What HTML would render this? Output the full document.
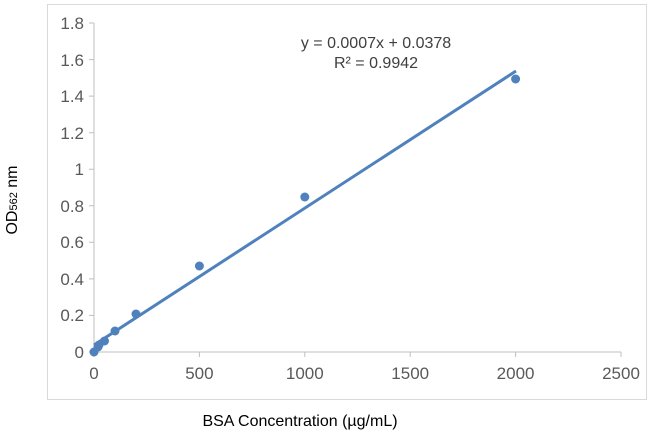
<!DOCTYPE html><html><head><style>body{margin:0;background:#fff}</style></head><body>
<svg width="653" height="435" xmlns="http://www.w3.org/2000/svg" font-family="Liberation Sans, sans-serif">
<rect x="47.5" y="4.5" width="599" height="395" fill="#fff" stroke="#d9d9d9"/>
<g stroke="#bfbfbf" fill="none">
<line x1="94" y1="23" x2="94" y2="352"/>
<line x1="94" y1="352" x2="621" y2="352"/>
<path d="M89 23h5M89 59.6h5M89 96.1h5M89 132.7h5M89 169.2h5M89 205.8h5M89 242.3h5M89 278.9h5M89 315.4h5M89 352h5"/>
<path d="M94 352v5M199.4 352v5M304.8 352v5M410.2 352v5M515.6 352v5M621 352v5"/>
</g>
<g fill="#595959" font-size="17" text-anchor="end">
<text x="84" y="29">1.8</text><text x="84" y="66">1.6</text><text x="84" y="102">1.4</text><text x="84" y="139">1.2</text><text x="84" y="175">1</text><text x="84" y="212">0.8</text><text x="84" y="248">0.6</text><text x="84" y="285">0.4</text><text x="84" y="321">0.2</text><text x="84" y="358">0</text>
</g>
<g fill="#595959" font-size="17" text-anchor="middle">
<text x="94" y="379">0</text><text x="199.4" y="379">500</text><text x="304.8" y="379">1000</text><text x="410.2" y="379">1500</text><text x="515.6" y="379">2000</text><text x="621" y="379">2500</text>
</g>
<line x1="94" y1="345" x2="516" y2="71" stroke="#4f81bd" stroke-width="3"/>
<g fill="#4f81bd">
<circle cx="94" cy="352" r="4.5"/><circle cx="99" cy="345" r="4.5"/><circle cx="98" cy="347" r="4.5"/><circle cx="104.5" cy="341" r="4.5"/><circle cx="115" cy="331" r="4.5"/><circle cx="136" cy="314" r="4.5"/><circle cx="199.4" cy="266" r="4.5"/><circle cx="304.8" cy="197" r="4.5"/><circle cx="515.6" cy="79" r="4.5"/>
</g>
<g fill="#404040" font-size="16" text-anchor="middle">
<text x="376" y="48">y = 0.0007x + 0.0378</text>
<text x="376" y="68">R² = 0.9942</text>
</g>
<text x="300" y="426" font-size="16" text-anchor="middle" fill="#000">BSA Concentration (µg/mL)</text>
<text transform="translate(17,200) rotate(-90)" font-size="16" text-anchor="middle" fill="#000">OD<tspan font-size="11">562</tspan> nm</text>
</svg>
</body></html>
